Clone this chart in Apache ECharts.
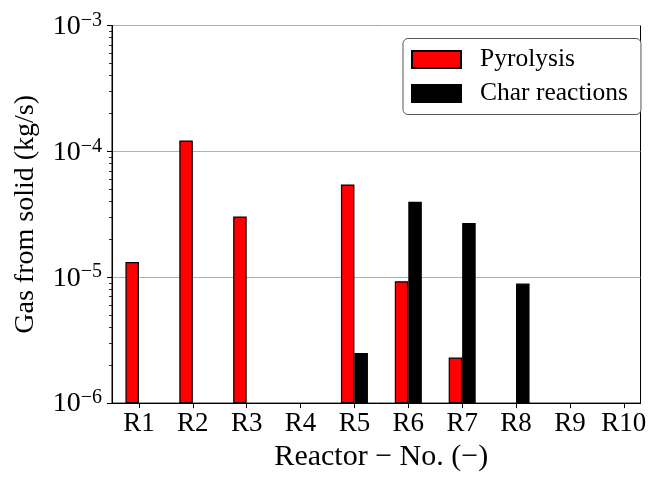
<!DOCTYPE html>
<html>
<head>
<meta charset="utf-8">
<script src="https://cdn.jsdelivr.net/npm/echarts@6/dist/echarts.min.js"></script>
<style>
html,body{margin:0;padding:0;background:#fff;}
#main{width:653px;height:477px;}
</style>
</head>
<body>
<div id="main"></div>
<script>
const categories = ['R1','R2','R3','R4','R5','R6','R7','R8','R9','R10'];
const pyrolysis = [1.32e-5, 1.22e-4, 3.04e-5, null, 5.46e-5, 9.3e-6, 2.3e-6, null, null, null];
const charReactions = [null, null, null, null, 2.5e-6, 3.98e-5, 2.7e-5, 8.9e-6, null, null];
const yMin = 1e-6, yMax = 1e-3;
const seriesNames = ['Pyrolysis', 'Char reactions'];
const xTitle = 'Reactor \u2212 No. (\u2212)';
const yTitle = 'Gas from solid (kg/s)';

const FONT = 'Liberation Serif';
const toPairs = arr => arr.map((v, i) => v == null ? null : [i, v]).filter(d => d);
const catIdx = categories.map((c, i) => i);
const minorTicks = [];
for (let d = Math.log10(yMin); d < Math.log10(yMax); d++) {
  for (let k = 2; k <= 9; k++) minorTicks.push(Math.log10(k) + d);
}

const chart = echarts.init(document.getElementById('main'), null, {renderer: 'canvas'});
chart.setOption({
  animation: false,
  backgroundColor: '#fff',
  grid: {left: 112, right: 12.5, top: 25.5, bottom: 66.5, show: true, borderColor: '#000', borderWidth: 1, backgroundColor: 'transparent'},
  legend: {
    left: 403, top: 38.5,
    orient: 'vertical',
    data: seriesNames,
    itemWidth: 49, itemHeight: 17, itemGap: 8,
    padding: [8, 13, 8, 8],
    backgroundColor: '#fff',
    borderColor: '#555', borderWidth: 1, borderRadius: 5,
    icon: 'rect',
    textStyle: {fontFamily: FONT, fontSize: 25.5, color: '#000', padding: [0, 0, 0, 14]}
  },
  xAxis: {
    type: 'value', min: -0.5, max: 9.31,
    name: xTitle, nameLocation: 'middle', nameGap: 30,
    nameTextStyle: {fontFamily: FONT, fontSize: 30, color: '#000', padding: [0, 0, 0, 10]},
    axisLine: {show: true, onZero: false, lineStyle: {color: '#000', width: 1}},
    axisTick: {show: true, inside: false, length: 5, customValues: catIdx, lineStyle: {color: '#000', width: 1}},
    axisLabel: {customValues: catIdx, margin: 7, fontFamily: FONT, fontSize: 27, color: '#000',
      formatter: v => categories[Math.round(v)]},
    splitLine: {show: false}
  },
  yAxis: [{
    type: 'log', logBase: 10, min: yMin, max: yMax, startValue: yMin,
    name: yTitle, nameLocation: 'middle', nameGap: 72, nameRotate: 90,
    nameTextStyle: {fontFamily: FONT, fontSize: 28, color: '#000'},
    axisLine: {show: true, onZero: false, lineStyle: {color: '#000', width: 1}},
    axisTick: {show: true, inside: false, length: 5, lineStyle: {color: '#000', width: 1}},
    axisLabel: {
      margin: 10,
      formatter: v => '{b|10}{s|\u2212' + Math.abs(Math.round(Math.log10(v))) + '}',
      rich: {
        b: {fontFamily: FONT, fontSize: 28, color: '#000', lineHeight: 30, verticalAlign: 'bottom'},
        s: {fontFamily: FONT, fontSize: 20, color: '#000', lineHeight: 30, verticalAlign: 'top', padding: [0, 0, 12, 0]}
      }
    },
    splitLine: {show: true, showMinLine: false, showMaxLine: false, lineStyle: {color: '#b0b0b0', width: 1}}
  }, {
    type: 'value', min: Math.log10(yMin), max: Math.log10(yMax), position: 'left', offset: 0,
    axisLine: {show: false, onZero: false},
    axisTick: {show: true, inside: false, length: 3, customValues: minorTicks, lineStyle: {color: '#000', width: 0.8}},
    axisLabel: {show: false},
    splitLine: {show: false}
  }],
  series: [{
    name: seriesNames[0], type: 'bar', yAxisIndex: 0,
    data: toPairs(pyrolysis),
    barWidth: 13.5, barGap: '0%',
    itemStyle: {color: '#ff0000', borderColor: '#000', borderWidth: 1.2}
  }, {
    name: seriesNames[1], type: 'bar', yAxisIndex: 0,
    data: toPairs(charReactions),
    barWidth: 13.5, barGap: '0%',
    itemStyle: {color: '#000000', borderColor: '#000', borderWidth: 1.2}
  }]
});
</script>
</body>
</html>
